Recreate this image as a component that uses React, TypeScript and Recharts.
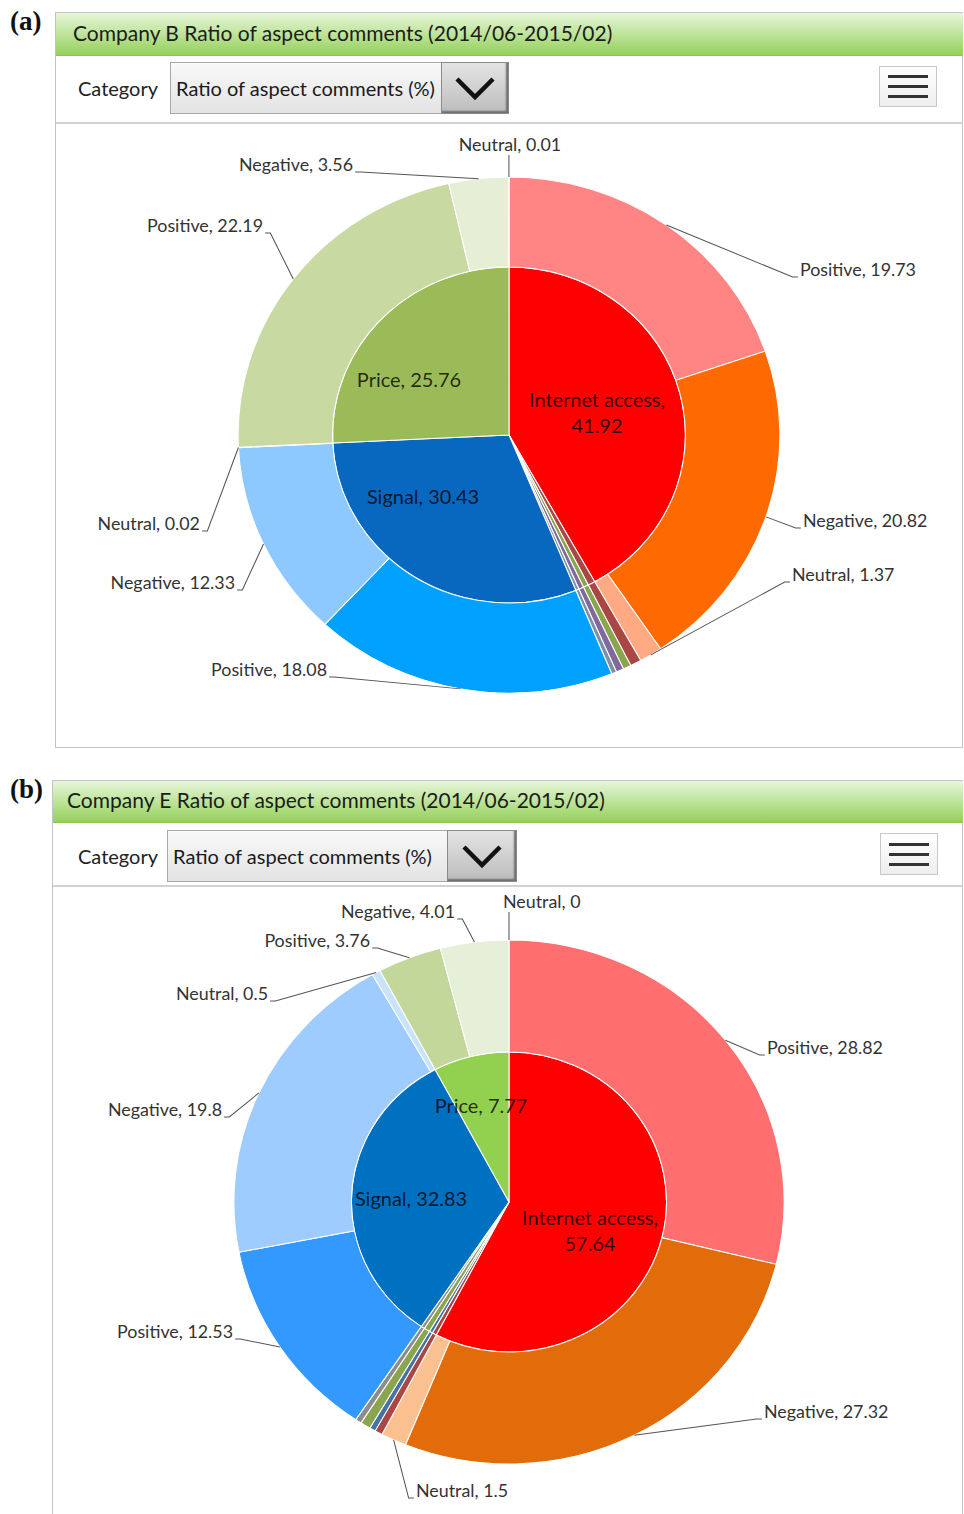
import { PieChart, Pie, Cell } from 'recharts';

const SENTIMENTS = ['Positive', 'Negative', 'Neutral'];
const ASPECTS = ['Internet access', 'Signal', 'Price'];

// (a) Company B
const B_ASPECTS = [41.92, 30.43, 25.76];
const B_OTHERS = [0.66, 0.48, 0.45, 0.3];
const B_INTERNET = [19.73, 20.82, 1.37];
const B_SIGNAL = [18.08, 12.33, 0.02];
const B_PRICE = [22.19, 3.56, 0.01];

// (b) Company E
const E_ASPECTS = [57.64, 32.83, 7.77];
const E_OTHERS = [0.45, 0.35, 0.6, 0.36];
const E_INTERNET = [28.82, 27.32, 1.5];
const E_SIGNAL = [12.53, 19.8, 0.5];
const E_PRICE = [3.76, 4.01, 0];

const OTHER_COLORS = ['#AA4643', '#89A54E', '#80699B', '#7F8FA8'];
const OTHER_COLORS_E = ['#AA4643', '#4572A7', '#89A54E', '#8C8C8C'];

const COLORS_B = {
  inner: ['#FF0000', '#0868BF', '#9BBB59'],
  internet: ['#FF8585', '#FF6A00', '#FFAA82'],
  signal: ['#00A0FF', '#8DC8FF', '#B8DCFF'],
  price: ['#C8D9A2', '#E6EED5', '#F2F6EA'],
};
const COLORS_E = {
  inner: ['#FF0000', '#0070C0', '#92D050'],
  internet: ['#FF6F6F', '#E36C0A', '#FAC08F'],
  signal: ['#3399FF', '#9ECCFF', '#C9E3FB'],
  price: ['#C4D79B', '#E6F0D8', '#F2F6EA'],
};

const STRETCH = 1.05;
const RAD = Math.PI / 180;
const FONT = 'Lato, "Open Sans", sans-serif';

type LabelPos = { dx: number; dy: number; side: 'left' | 'right' | 'top'; anchor?: 'start' | 'middle' | 'end' };

// label placement, offsets from pie centre
const OUTER_LABELS_B: LabelPos[] = [
  { dx: 291, dy: -165, side: 'right' },
  { dx: 294, dy: 86, side: 'right' },
  { dx: 283, dy: 140, side: 'right' },
  { dx: -182, dy: 235, side: 'left' },
  { dx: -274, dy: 148, side: 'left' },
  { dx: -309, dy: 89, side: 'left' },
  { dx: -246, dy: -209, side: 'left' },
  { dx: -156, dy: -270, side: 'left' },
  { dx: 1, dy: -290, side: 'top', anchor: 'middle' },
];
const OUTER_LABELS_E: LabelPos[] = [
  { dx: 258, dy: -154, side: 'right' },
  { dx: 255, dy: 210, side: 'right' },
  { dx: -93, dy: 289, side: 'right' },
  { dx: -276, dy: 130, side: 'left' },
  { dx: -287, dy: -92, side: 'left' },
  { dx: -241, dy: -208, side: 'left' },
  { dx: -139, dy: -261, side: 'left' },
  { dx: -54, dy: -290, side: 'left' },
  { dx: -6, dy: -300, side: 'top', anchor: 'start' },
];
const INNER_LABELS_B = [
  { dx: 88, dy: -23 },
  { dx: -86, dy: 62 },
  { dx: -100, dy: -55 },
];
const INNER_LABELS_E = [
  { dx: 81, dy: 28 },
  { dx: -98, dy: -3 },
  { dx: -28, dy: -96 },
];

function buildInner(aspects: number[], others: number[], colors: string[], otherColors: string[]) {
  const rows: any[] = [{ name: ASPECTS[0], value: aspects[0], color: colors[0], lab: 0 }];
  others.forEach((v, i) => rows.push({ name: 'other' + i, value: v, color: otherColors[i], lab: -1 }));
  rows.push({ name: ASPECTS[1], value: aspects[1], color: colors[1], lab: 1 });
  rows.push({ name: ASPECTS[2], value: aspects[2], color: colors[2], lab: 2 });
  return rows;
}

function buildOuter(internet: number[], signal: number[], price: number[], others: number[], c: any, otherColors: string[]) {
  const rows: any[] = [];
  internet.forEach((v, i) => rows.push({ name: SENTIMENTS[i], value: v, color: c.internet[i], lab: i }));
  others.forEach((v, i) => rows.push({ name: 'other' + i, value: v, color: otherColors[i], lab: -1 }));
  signal.forEach((v, i) => rows.push({ name: SENTIMENTS[i], value: v, color: c.signal[i], lab: 3 + i }));
  price.forEach((v, i) => rows.push({ name: SENTIMENTS[i], value: v, color: c.price[i], lab: 6 + i }));
  return rows;
}

const getLab = (p: any) => {
  const v = p.payload?.lab ?? p.lab;
  return typeof v === 'number' ? v : -1;
};

function outerLabel(layout: LabelPos[]) {
  return (p: any) => {
    const lab = getLab(p);
    if (lab < 0) return null;
    const L = layout[lab];
    const a = -p.midAngle * RAD;
    const ex = p.cx + p.outerRadius * Math.cos(a);
    const ey = p.cy + p.outerRadius * Math.sin(a);
    const tx = p.cx + L.dx / STRETCH;
    const ty = p.cy + L.dy;
    let d = '';
    let anchor: any = 'start';
    if (L.side === 'top') {
      d = `M${ex},${ty + 10} L${ex},${ey}`;
      anchor = L.anchor;
    } else if (L.side === 'right') {
      d = `M${tx - 2},${ty + 7} L${tx - 7},${ty + 7} L${ex},${ey}`;
    } else {
      d = `M${tx + 2},${ty + 7} L${tx + 7},${ty + 7} L${ex},${ey}`;
      anchor = 'end';
    }
    const name = p.payload?.name ?? p.name;
    const value = p.payload?.value ?? p.value;
    return (
      <g key={'ol' + lab}>
        <path d={d} stroke="#555" strokeWidth={1} fill="none" />
        <text x={tx} y={ty} textAnchor={anchor} dominantBaseline="central" fontFamily={FONT} fontSize={17} fill="#333">
          {`${name}, ${value}`}
        </text>
      </g>
    );
  };
}

function innerLabel(layout: { dx: number; dy: number }[]) {
  return (p: any) => {
    const lab = getLab(p);
    if (lab < 0) return null;
    const L = layout[lab];
    const tx = p.cx + L.dx / STRETCH;
    const ty = p.cy + L.dy;
    const name = p.payload?.name ?? p.name;
    const value = p.payload?.value ?? p.value;
    const long = name.length > 10;
    return (
      <text key={'il' + lab} x={tx} y={ty} textAnchor="middle" dominantBaseline="central" fontFamily={FONT} fontSize={19} fill="rgba(0,0,0,0.78)">
        {long ? (
          <>
            <tspan x={tx} dy={-13}>{`${name},`}</tspan>
            <tspan x={tx} dy={26}>{`${value}`}</tspan>
          </>
        ) : (
          `${name}, ${value}`
        )}
      </text>
    );
  };
}

function Chevron() {
  return (
    <svg width={42} height={26}>
      <polyline points="3,4 21,22 39,4" fill="none" stroke="#111" strokeWidth={4.5} />
    </svg>
  );
}

function Panel(props: any) {
  const { cfg, letter, title, inner, outer, innerLabels, outerLabels } = props;
  const chartTop = cfg.toolbarBottom + 2;
  const chartH = cfg.frameBottom - chartTop;
  const cx = cfg.cx - 56;
  const cy = cfg.cy - chartTop;
  return (
    <>
      <div style={{ position: 'absolute', left: 10, top: cfg.frameY - 6, fontFamily: '"Liberation Serif", serif', fontWeight: 'bold', fontSize: 27, color: '#111' }}>
        {letter}
      </div>
      <div
        style={{
          position: 'absolute',
          left: cfg.frameX,
          top: cfg.frameY,
          width: 963 - cfg.frameX,
          height: cfg.frameBottom - cfg.frameY,
          border: '1px solid #c4c4c4',
          boxSizing: 'border-box',
          background: '#fff',
        }}
      />
      <div
        style={{
          position: 'absolute',
          left: cfg.frameX + 1,
          top: cfg.frameY + 1,
          width: 962 - cfg.frameX,
          height: cfg.headerH,
          background: 'linear-gradient(#e6f5d8 0%, #c2e6a0 45%, #95d05a 100%)',
          borderBottom: '1px solid #8cc84e',
          boxSizing: 'border-box',
          display: 'flex',
          alignItems: 'center',
          paddingLeft: cfg.titleX - cfg.frameX - 1,
          paddingBottom: 4,
          fontFamily: FONT,
          fontSize: 21,
          color: '#1c1c1c',
        }}
      >
        {title}
      </div>
      <div
        style={{
          position: 'absolute',
          left: cfg.frameX + 1,
          top: cfg.toolbarBottom,
          width: 962 - cfg.frameX,
          height: 2,
          background: '#d2d2d2',
        }}
      />
      <div style={{ position: 'absolute', left: cfg.catX, top: cfg.selY, height: cfg.selH, display: 'flex', alignItems: 'center', fontFamily: FONT, fontSize: 20, color: '#222' }}>
        Category
      </div>
      <div
        style={{
          position: 'absolute',
          left: cfg.selX,
          top: cfg.selY,
          width: cfg.selW,
          height: cfg.selH,
          border: '1px solid #a8a8a8',
          boxSizing: 'border-box',
          background: 'linear-gradient(#f9f9f9, #e3e3e3)',
          display: 'flex',
          alignItems: 'center',
          paddingLeft: 5,
          fontFamily: FONT,
          fontSize: 20,
          color: '#1a1a1a',
        }}
      >
        Ratio of aspect comments (%)
      </div>
      <div
        style={{
          position: 'absolute',
          left: cfg.btnX,
          top: cfg.selY,
          width: cfg.selX + cfg.selW - cfg.btnX,
          height: cfg.selH,
          border: '1px solid #8a8a8a',
          boxSizing: 'border-box',
          background: 'linear-gradient(#e4e4e4, #bcbcbc)',
          boxShadow: 'inset -2px -2px 2px #6e6e6e',
          display: 'flex',
          alignItems: 'center',
          justifyContent: 'center',
        }}
      >
        <Chevron />
      </div>
      <div
        style={{
          position: 'absolute',
          left: cfg.menuX,
          top: cfg.menuY,
          width: cfg.menuW,
          height: cfg.menuH,
          border: '1px solid #c8c8c8',
          boxSizing: 'border-box',
          background: 'linear-gradient(#ffffff, #eeeeee)',
          display: 'flex',
          flexDirection: 'column',
          alignItems: 'center',
          justifyContent: 'center',
          gap: 7,
        }}
      >
        {[0, 1, 2].map((i) => (
          <div key={i} style={{ width: 40, height: 3, background: '#333' }} />
        ))}
      </div>
      <div
        style={{
          position: 'absolute',
          left: 56,
          top: chartTop,
          width: 906,
          height: chartH,
          transform: `scaleX(${STRETCH})`,
          transformOrigin: `${cx}px 0px`,
        }}
      >
        <PieChart width={906} height={chartH} margin={{ top: 0, right: 0, bottom: 0, left: 0 }}>
          <Pie
            data={inner}
            dataKey="value"
            nameKey="name"
            cx={cx}
            cy={cy}
            outerRadius={cfg.rIn}
            startAngle={90}
            endAngle={-270}
            stroke="#fff"
            strokeWidth={1}
            label={innerLabel(innerLabels)}
            labelLine={false}
            isAnimationActive={false}
          >
            {inner.map((d: any, i: number) => (
              <Cell key={i} fill={d.color} />
            ))}
          </Pie>
          <Pie
            data={outer}
            dataKey="value"
            nameKey="name"
            cx={cx}
            cy={cy}
            innerRadius={cfg.rIn}
            outerRadius={cfg.rOut}
            startAngle={90}
            endAngle={-270}
            stroke="#fff"
            strokeWidth={1}
            label={outerLabel(outerLabels)}
            labelLine={false}
            isAnimationActive={false}
          >
            {outer.map((d: any, i: number) => (
              <Cell key={i} fill={d.color} />
            ))}
          </Pie>
        </PieChart>
      </div>
    </>
  );
}

const CFG_A = {
  frameX: 55, frameY: 12, frameBottom: 748, headerH: 43, toolbarBottom: 122, titleX: 73,
  catX: 78, selX: 170, selY: 62, selW: 339, selH: 52, btnX: 441,
  menuX: 879, menuY: 66, menuW: 58, menuH: 41, cx: 509, cy: 435, rIn: 168, rOut: 258,
};
const CFG_B = {
  frameX: 52, frameY: 780, frameBottom: 1540, headerH: 42, toolbarBottom: 885, titleX: 67,
  catX: 78, selX: 167, selY: 830, selW: 350, selH: 52, btnX: 447,
  menuX: 880, menuY: 833, menuW: 58, menuH: 42, cx: 509, cy: 1202, rIn: 150, rOut: 262,
};

export default function App() {
  const innerB = buildInner(B_ASPECTS, B_OTHERS, COLORS_B.inner, OTHER_COLORS);
  const outerB = buildOuter(B_INTERNET, B_SIGNAL, B_PRICE, B_OTHERS, COLORS_B, OTHER_COLORS);
  const innerE = buildInner(E_ASPECTS, E_OTHERS, COLORS_E.inner, OTHER_COLORS_E);
  const outerE = buildOuter(E_INTERNET, E_SIGNAL, E_PRICE, E_OTHERS, COLORS_E, OTHER_COLORS_E);
  return (
    <div style={{ position: 'absolute', left: 0, top: 0, width: 964, height: 1514, overflow: 'hidden', background: '#fff' }}>
      <Panel
        cfg={CFG_A}
        letter="(a)"
        title="Company B Ratio of aspect comments (2014/06-2015/02)"
        inner={innerB}
        outer={outerB}
        innerLabels={INNER_LABELS_B}
        outerLabels={OUTER_LABELS_B}
      />
      <Panel
        cfg={CFG_B}
        letter="(b)"
        title="Company E Ratio of aspect comments (2014/06-2015/02)"
        inner={innerE}
        outer={outerE}
        innerLabels={INNER_LABELS_E}
        outerLabels={OUTER_LABELS_E}
      />
    </div>
  );
}
